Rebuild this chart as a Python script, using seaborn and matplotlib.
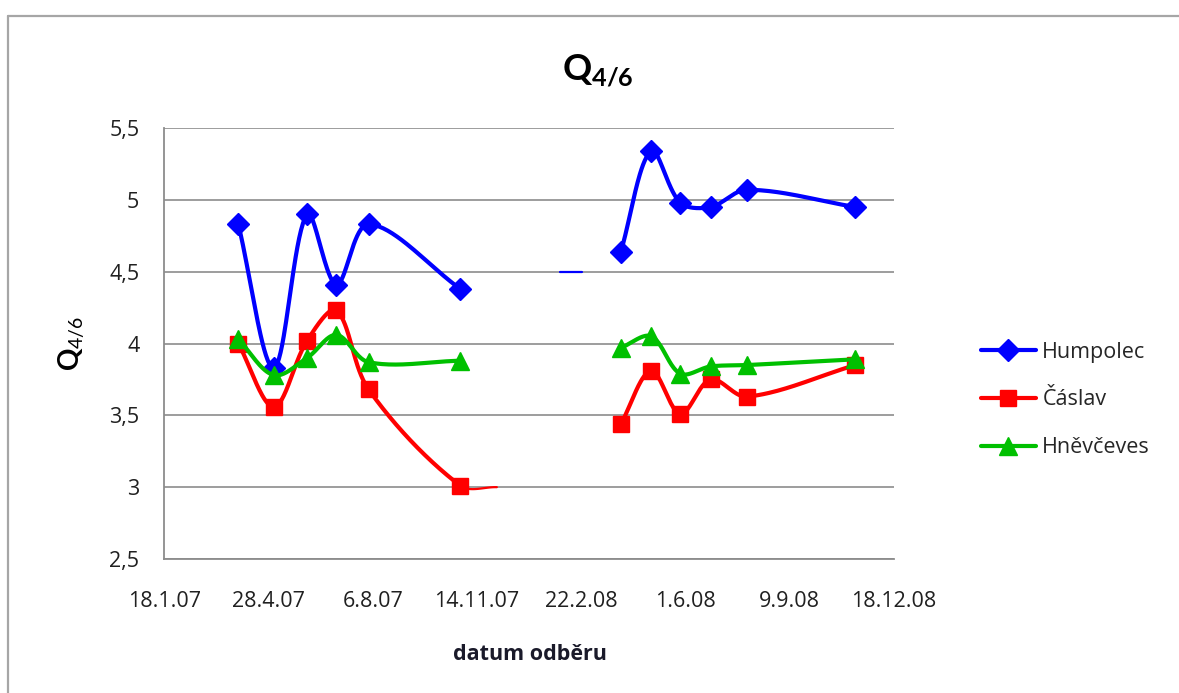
import numpy as np
import pandas as pd
import matplotlib
matplotlib.use("Agg")
import matplotlib.pyplot as plt
import matplotlib.dates as mdates
from matplotlib.lines import Line2D
import seaborn as sns

# --- data -------------------------------------------------------------
dates = pd.to_datetime([
    "2007-03-30", "2007-05-03", "2007-06-04", "2007-07-02", "2007-08-02", "2007-10-29",
    "2008-03-31", "2008-04-29", "2008-05-27", "2008-06-25", "2008-07-30", "2008-11-11",
])
season = [2007] * 6 + [2008] * 6

humpolec = [4.83, 3.83, 4.90, 4.41, 4.83, 4.38, 4.64, 5.34, 4.98, 4.95, 5.07, 4.95]
caslav = [4.00, 3.56, 4.02, 4.23, 3.68, 3.01, 3.44, 3.81, 3.51, 3.75, 3.63, 3.85]
hnevceves = [4.03, 3.78, 3.90, 4.06, 3.87, 3.88, 3.97, 4.05, 3.79, 3.84, 3.85, 3.89]

# unmarked line tails: Čáslav 2007 runs on flat past its last sample,
# and a lone Humpolec dash sits at 4.5 before the 2008 season
caslav_tail_date = pd.Timestamp("2007-12-03")
caslav_tail_val = 3.0
humpolec_stub_dates = pd.to_datetime(["2008-02-02", "2008-02-23"])
humpolec_stub_vals = [4.5, 4.5]

series_names = ["Humpolec", "Čáslav", "Hněvčeves"]
series_vals = [humpolec, caslav, hnevceves]
series_colors = ["#0000FF", "#FF0000", "#00C000"]
series_markers = ["D", "s", "^"]
series_msize = [11, 12, 12.5]

x_start = pd.Timestamp("2007-01-18")
x_end = pd.Timestamp("2008-12-18")
y_ticks = [2.5, 3, 3.5, 4, 4.5, 5, 5.5]

# --- style ------------------------------------------------------------
sns.set_style("white")
plt.rcParams["font.family"] = ["Open Sans", "DejaVu Sans"]
plt.rcParams["mathtext.fontset"] = "custom"
plt.rcParams["mathtext.rm"] = "Lato"
plt.rcParams["mathtext.bf"] = "Lato:bold"

FS = 15.5

W, H = 1179, 693
fig = plt.figure(figsize=(W / 100, H / 100), dpi=100)
fig.patch.set_facecolor("white")

# outer chart frame (top and left edges visible)
fig.add_artist(Line2D([8 / W, 1.0], [1 - 16 / H, 1 - 16 / H], transform=fig.transFigure,
                      color="#a6a6a6", lw=1.6))
fig.add_artist(Line2D([8 / W, 8 / W], [0, 1 - 16 / H], transform=fig.transFigure,
                      color="#a6a6a6", lw=1.6))

ax = fig.add_axes([164.3 / W, (H - 559) / H, (894 - 164.3) / W, (559 - 128) / H])
ax.set_xlim(mdates.date2num(x_start), mdates.date2num(x_end))
ax.set_ylim(2.5, 5.5)

# gridlines and axes
ax.set_yticks(y_ticks)
ax.yaxis.grid(True, color="#8c8c8c", lw=1.2)
ax.xaxis.grid(False)
for side in ["top", "right"]:
    ax.spines[side].set_visible(False)
for side in ["left", "bottom"]:
    ax.spines[side].set_color("#8c8c8c")
    ax.spines[side].set_linewidth(1.3)

xt = [mdates.date2num(x_start) + 100 * i for i in range(8)]
ax.set_xticks(xt)


def fmt_date(v, pos=None):
    d = mdates.num2date(v)
    return f"{d.day}.{d.month}.{d:%y}"


ax.xaxis.set_major_formatter(plt.FuncFormatter(fmt_date))
ax.yaxis.set_major_formatter(plt.FuncFormatter(lambda v, p: f"{v:g}".replace(".", ",")))
ax.tick_params(axis="y", length=0, pad=18, labelsize=FS, labelcolor="#202020")
ax.tick_params(axis="x", length=0, pad=23, labelsize=FS, labelcolor="#202020")


def smooth(xd, yd, n=40):
    """Bezier smoothing computed in screen space, handles scaled by chord length."""
    pts = ax.transData.transform(np.column_stack([xd, yd]))
    P = np.vstack([pts[0], pts, pts[-1]])
    out = []
    t = np.linspace(0, 1, n)[:, None]
    for i in range(1, len(P) - 2):
        p0, p1, p2, p3 = P[i - 1], P[i], P[i + 1], P[i + 2]
        d01 = np.linalg.norm(p1 - p0)
        d12 = np.linalg.norm(p2 - p1)
        d23 = np.linalg.norm(p3 - p2)
        s1 = d12 / (d01 + d12) / 3 if d01 + d12 > 0 else 0
        s2 = d12 / (d12 + d23) / 3 if d12 + d23 > 0 else 0
        c1 = p1 + (p2 - p0) * s1
        c2 = p2 - (p3 - p1) * s2
        seg = (1 - t) ** 3 * p1 + 3 * (1 - t) ** 2 * t * c1 + 3 * (1 - t) * t ** 2 * c2 + t ** 3 * p2
        out.append(seg if i == 1 else seg[1:])
    curve = ax.transData.inverted().transform(np.vstack(out))
    return curve[:, 0], curve[:, 1]


xnum = mdates.date2num(dates)
season_arr = np.array(season)

sns.lineplot(x=mdates.date2num(humpolec_stub_dates), y=humpolec_stub_vals, ax=ax,
             color=series_colors[0], lw=1.6, sort=False, estimator=None)

for k in range(3):
    vals = np.array(series_vals[k])
    for s in sorted(set(season)):
        m = season_arr == s
        sx, sy = xnum[m], vals[m]
        last_x = sx[-1]
        if k == 1 and s == 2007:
            sx = np.append(sx, mdates.date2num(caslav_tail_date))
            sy = np.append(sy, caslav_tail_val)
        cx, cy = smooth(sx, sy)
        body = cx <= last_x + 1e-9
        sns.lineplot(x=cx[body], y=cy[body], ax=ax, color=series_colors[k], lw=3.0,
                     sort=False, estimator=None, zorder=3 + k)
        if (~body).any():
            tail = cx >= last_x - 1e-9
            sns.lineplot(x=cx[tail], y=cy[tail], ax=ax, color=series_colors[k], lw=1.6,
                         sort=False, estimator=None, zorder=3 + k)
    ax.plot(xnum, vals, linestyle="none", marker=series_markers[k],
            markersize=series_msize[k], color=series_colors[k],
            markeredgecolor=series_colors[k], zorder=4 + k)

ax.set_xlabel("")
ax.set_ylabel("")
if ax.get_legend():
    ax.get_legend().remove()

# titles
fig.text(598 / W, 1 - 70 / H, r"$\mathbf{Q}_{\mathbf{4/6}}$", ha="center", va="center",
         fontsize=26, color="black")
fig.text(72 / W, 1 - 343 / H, r"$\mathbf{Q}_{4/6}$", ha="center", va="center",
         rotation=90, fontsize=20, color="black")
fig.text(530 / W, 1 - 655 / H, "datum odběru", ha="center", va="center",
         fontsize=FS, fontweight="bold", color="#1a1a2a")

# legend
handles = [Line2D([0], [0], color=c, lw=3.0, marker=mk, markersize=ms)
           for c, mk, ms in zip(series_colors, series_markers, series_msize)]
fig.legend(handles, series_names, loc="center left",
           bbox_to_anchor=(981 / W, 1 - 400 / H), frameon=False,
           fontsize=FS, handlelength=2.55, handletextpad=0.3,
           labelspacing=1.25, borderpad=0, borderaxespad=0)

fig.savefig("out.png", dpi=100)
